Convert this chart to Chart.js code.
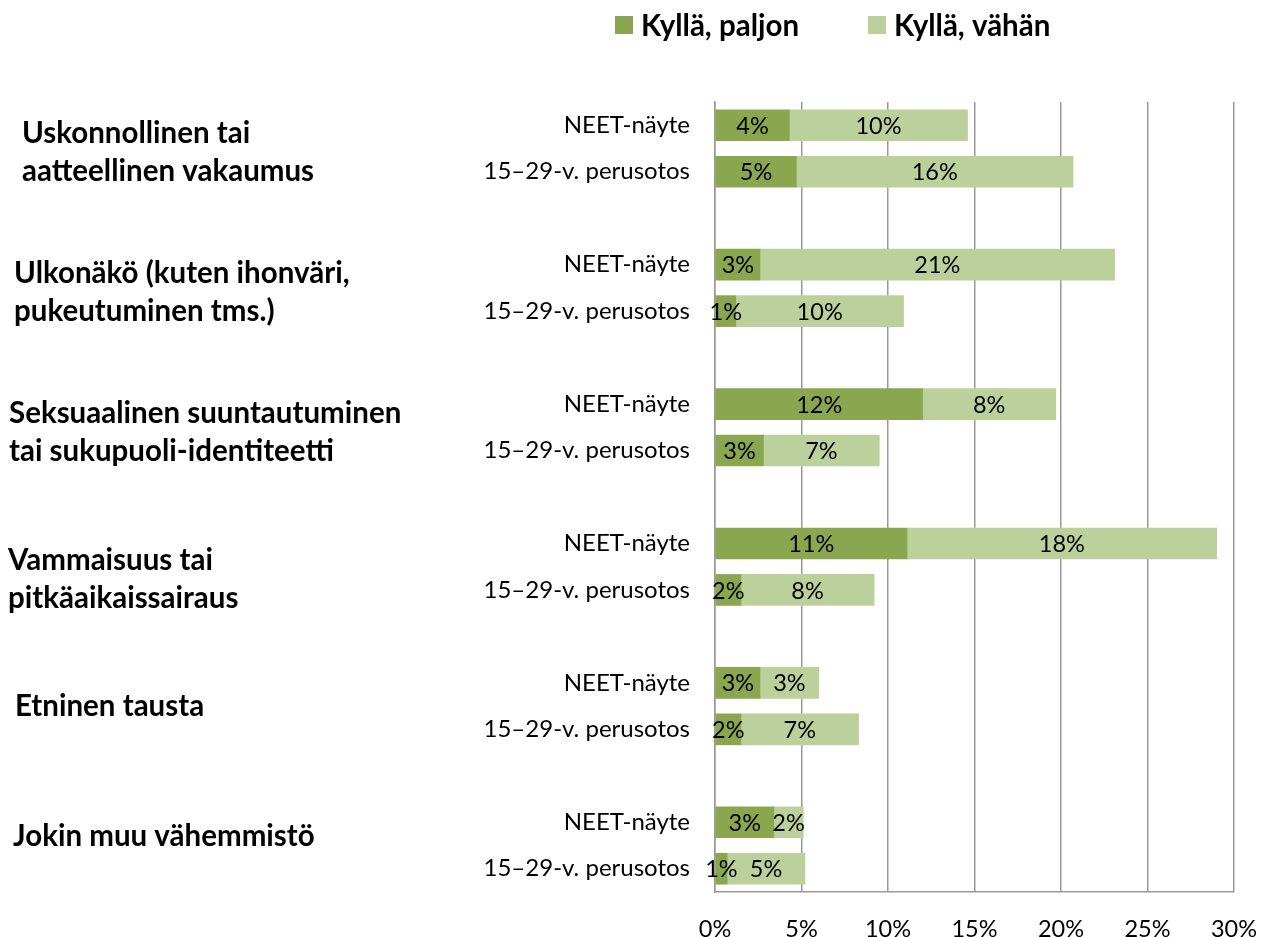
<!DOCTYPE html>
<html>
<head>
<meta charset="utf-8">
<script src="https://cdn.jsdelivr.net/npm/chart.js@4/dist/chart.umd.min.js"></script>
<style>
  body { margin: 0; background: #fff; }
  canvas { display: block; }
</style>
</head>
<body>
<canvas id="chart" width="1267" height="937"></canvas>
<script>
// values (percent)
const rowLabels = ['NEET-näyte', '15–29-v. perusotos'];
const groupLabels = [
    ['Uskonnollinen tai', 'aatteellinen vakaumus'],
    ['Ulkonäkö (kuten ihonväri,', 'pukeutuminen tms.)'],
    ['Seksuaalinen suuntautuminen', 'tai sukupuoli-identiteetti'],
    ['Vammaisuus tai', 'pitkäaikaissairaus'],
    ['Etninen tausta'],
    ['Jokin muu vähemmistö']
];
const paljon = [4.3, 4.7, 2.6, 1.2, 12.0, 2.8, 11.1, 1.5, 2.6, 1.5, 3.4, 0.7];
const vahan  = [10.3, 16.0, 20.5, 9.7, 7.7, 6.7, 17.9, 7.7, 3.4, 6.8, 1.7, 4.5];
const xTicks = [0, 5, 10, 15, 20, 25, 30];

const DARK = '#8aa64f';
const LIGHT = '#bbd09a';
const FONT = 'Lato, "Open Sans", sans-serif';

// 17 category slots: two rows per group, one empty slot between groups
const labels = [], darkData = [], lightData = [], groupStart = [];
groupLabels.forEach((g, i) => {
    if (i > 0) { labels.push(''); darkData.push(null); lightData.push(null); }
    groupStart.push(labels.length);
    for (let r = 0; r < 2; r++) {
        labels.push(rowLabels[r]);
        darkData.push(paljon[i * 2 + r]);
        lightData.push(vahan[i * 2 + r]);
    }
});

// text placement of the bold group captions (left edge, vertical shift)
const groupX = [22, 14, 9, 8, 15, 13];
const groupDy = [4, 5, 5, 13, 0, -9];
const lineGap = 38;

const barLabels = {
    id: 'barLabels',
    afterDatasetsDraw(chart) {
        const ctx = chart.ctx;
        ctx.save();
        ctx.font = '23.5px ' + FONT;
        ctx.fillStyle = '#000';
        ctx.textAlign = 'center';
        ctx.textBaseline = 'middle';
        chart.data.datasets.forEach((ds, di) => {
            chart.getDatasetMeta(di).data.forEach((el, i) => {
                const v = ds.data[i];
                if (v === null) return;
                ctx.fillText(Math.round(v) + '%', (el.x + el.base) / 2, el.y + 1);
            });
        });
        ctx.restore();
    }
};

const sideText = {
    id: 'sideText',
    afterDraw(chart) {
        const ctx = chart.ctx;
        const y = chart.scales.y;
        ctx.save();
        // group captions
        ctx.font = 'bold 29.5px ' + FONT;
        ctx.fillStyle = '#000';
        ctx.textAlign = 'left';
        ctx.textBaseline = 'middle';
        groupLabels.forEach((lines, i) => {
            const s = groupStart[i];
            const mid = (y.getPixelForValue(s) + y.getPixelForValue(s + 1)) / 2 + groupDy[i];
            const top = mid - (lines.length - 1) * lineGap / 2;
            lines.forEach((t, k) => ctx.fillText(t, groupX[i], top + k * lineGap));
        });
        // legend
        const items = [[615, 641], [868, 894]];
        chart.data.datasets.forEach((ds, di) => {
            ctx.fillStyle = ds.backgroundColor;
            ctx.fillRect(items[di][0], 16, 18, 18);
            ctx.fillStyle = '#000';
            ctx.fillText(ds.label, items[di][1], 26);
        });
        ctx.restore();
    }
};

new Chart(document.getElementById('chart'), {
    type: 'bar',
    data: {
        labels: labels,
        datasets: [
            { label: 'Kyllä, paljon', data: darkData, backgroundColor: DARK, barThickness: 31 },
            { label: 'Kyllä, vähän', data: lightData, backgroundColor: LIGHT, barThickness: 31 }
        ]
    },
    options: {
        indexAxis: 'y',
        responsive: false,
        animation: false,
        layout: { padding: { top: 102, right: 33, left: 0, bottom: 0 } },
        plugins: {
            legend: { display: false },
            tooltip: { enabled: false }
        },
        scales: {
            x: {
                stacked: true,
                min: 0,
                max: 30,
                afterBuildTicks(scale) { scale.ticks = xTicks.map(v => ({ value: v })); },
                afterFit(scale) {
                    scale.height = 45;
                    scale.paddingLeft = 0;
                    scale.paddingRight = 0;
                },
                grid: { color: '#999', lineWidth: 1.5, drawTicks: false },
                border: { color: '#999', width: 1.5 },
                ticks: {
                    padding: 23,
                    color: '#000',
                    font: { family: FONT, size: 23.5 },
                    callback: v => v + '%'
                }
            },
            y: {
                stacked: true,
                afterFit(scale) { scale.width = 715; },
                grid: { display: false, drawTicks: false },
                border: { color: '#999', width: 1.5 },
                ticks: {
                    padding: 25,
                    color: '#000',
                    autoSkip: false,
                    font: { family: FONT, size: 24 }
                }
            }
        }
    },
    plugins: [barLabels, sideText]
});
</script>
</body>
</html>
